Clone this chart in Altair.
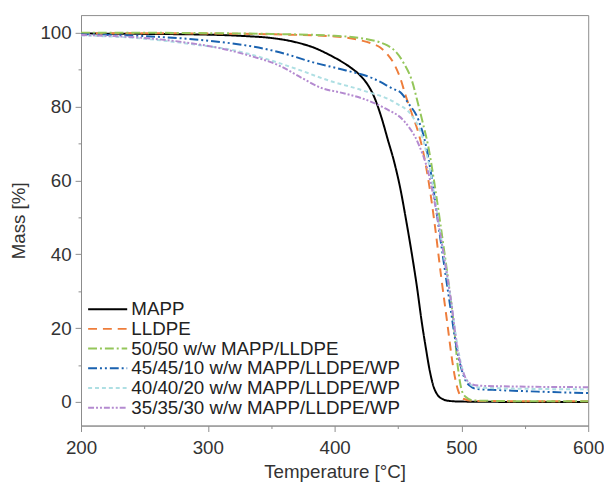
import altair as alt
import pandas as pd

series_names = [
    "MAPP",
    "LLDPE",
    "50/50 w/w MAPP/LLDPE",
    "45/45/10 w/w MAPP/LLDPE/WP",
    "40/40/20 w/w MAPP/LLDPE/WP",
    "35/35/30 w/w MAPP/LLDPE/WP",
]
series_colors = ["#000000", "#ee7d3b", "#94c65a", "#1a62b0", "#aedfe3", "#b48ad0"]
series_dashes = [[1, 0], [9, 6], [9, 3, 2, 3], [9, 3, 2, 3, 2, 3], [4, 3], [6, 2, 2, 2, 2, 2]]

mapp_t = [200, 250, 300, 330, 350, 370, 385, 396, 405, 413, 420, 426, 431, 437, 442, 447, 452, 456, 460, 465, 469, 472, 475, 478, 481, 485, 490, 500, 550, 600]
mapp_m = [99.8, 99.7, 99.5, 99.1, 98.6, 97.4, 95.8, 94.0, 92.3, 90.5, 88.5, 86.0, 82.8, 77.0, 71.0, 65.0, 57.5, 50.0, 42.0, 31.0, 21.0, 14.5, 8.5, 4.2, 2.0, 0.8, 0.3, 0.1, 0.0, 0.0]

lldpe_t = [200, 250, 300, 350, 400, 420, 430, 436, 442, 447, 452, 456, 461, 466, 470, 474, 479, 484, 489, 492, 495, 498, 502, 510, 550, 600]
lldpe_m = [99.9, 99.9, 99.8, 99.6, 99.0, 98.0, 97.0, 96.0, 94.0, 91.5, 87.5, 83.0, 78.0, 73.0, 67.5, 60.0, 48.0, 34.0, 21.0, 13.0, 6.5, 2.5, 0.8, 0.3, 0.2, 0.2]

b50_t = [200, 250, 300, 350, 400, 425, 435, 442, 448, 455, 461, 466, 470, 474, 477, 481, 486, 490, 494, 497, 500, 503, 510, 550, 600]
b50_m = [100.0, 100.0, 99.9, 99.7, 99.2, 98.3, 97.5, 96.5, 95.0, 91.5, 87.0, 80.5, 75.0, 69.0, 63.0, 54.0, 42.0, 32.0, 21.0, 10.0, 3.5, 1.5, 0.4, 0.2, 0.2]

b45_t = [200, 250, 290, 315, 340, 360, 383, 409, 430, 445, 453, 458, 466, 471, 476, 481, 486, 492, 496, 500, 503, 507, 512, 530, 560, 600]
b45_m = [99.6, 99.1, 98.2, 97.3, 96.0, 94.4, 92.0, 89.8, 87.7, 85.0, 83.5, 81.0, 76.5, 71.0, 62.0, 50.0, 38.0, 24.0, 15.0, 9.0, 6.0, 4.3, 3.5, 3.2, 2.8, 2.4]

b40_t = [200, 250, 290, 320, 331, 350, 370, 396, 422, 448, 461, 468, 474, 480, 486, 492, 497, 502, 507, 512, 530, 600]
b40_m = [99.3, 98.4, 96.8, 95.3, 94.4, 92.5, 90.2, 87.0, 84.4, 81.0, 77.5, 73.0, 65.0, 53.0, 40.0, 27.0, 15.0, 7.5, 4.8, 4.0, 3.7, 3.4]

b35_t = [200, 250, 280, 310, 331, 357, 375, 390, 405, 422, 440, 455, 466, 474, 480, 486, 492, 497, 502, 508, 515, 540, 600]
b35_m = [99.4, 98.6, 97.5, 95.8, 94.0, 91.0, 87.6, 85.0, 83.8, 82.2, 79.5, 76.0, 70.0, 62.0, 52.0, 40.0, 27.0, 14.0, 7.5, 4.8, 4.4, 4.2, 4.0]

x_major = [200, 300, 400, 500, 600]
x_minor = [250, 350, 450, 550]
y_major = [0, 20, 40, 60, 80, 100]
y_minor = [10, 30, 50, 70, 90]

all_t = [mapp_t, lldpe_t, b50_t, b45_t, b40_t, b35_t]
all_m = [mapp_m, lldpe_m, b50_m, b45_m, b40_m, b35_m]

rows = []
for name, ts, ms in zip(series_names, all_t, all_m):
    for i, (t, m) in enumerate(zip(ts, ms)):
        rows.append({"series": name, "T": t, "M": m, "order": i})
df = pd.DataFrame(rows)

FONT = "Liberation Sans"
AX_GRAY = "#8c8c8c"
TXT = "#333333"

xscale = alt.Scale(domain=[200, 600], nice=False, zero=False)
yscale = alt.Scale(domain=[-6.4, 104.8], nice=False, zero=False)

legend = alt.Legend(
    title=None,
    orient="none",
    legendX=17,
    legendY=288,
    symbolType="M-2.2,0H2.2",
    symbolSize=324,
    symbolStrokeWidth=2,
    labelOffset=14,
    labelFontSize=19,
    labelFont=FONT,
    labelColor="#222222",
    labelLimit=0,
    rowPadding=0,
    padding=0,
)

main = alt.Chart(df).mark_line(strokeWidth=2, interpolate="monotone", clip=True).encode(
    x=alt.X("T:Q", scale=xscale, axis=alt.Axis(
        values=x_major, title="Temperature [°C]", orient="bottom", grid=False,
        tickSize=6, labelPadding=7, titlePadding=6, labelFlush=False, labelOverlap=False)),
    y=alt.Y("M:Q", scale=yscale, axis=alt.Axis(
        values=y_major, title="Mass [%]", orient="left", grid=False,
        tickSize=6, labelPadding=4, titlePadding=12, labelFlush=False, labelOverlap=False)),
    color=alt.Color("series:N", scale=alt.Scale(domain=series_names, range=series_colors), legend=legend),
    strokeDash=alt.StrokeDash("series:N", scale=alt.Scale(domain=series_names, range=series_dashes), legend=legend),
    order="order:Q",
)

minor = alt.Chart(df).mark_point(opacity=0).encode(
    x=alt.X("T:Q", scale=xscale, axis=alt.Axis(
        values=x_minor, labels=False, domain=False, title=None, orient="bottom", grid=False, tickSize=3)),
    y=alt.Y("M:Q", scale=yscale, axis=alt.Axis(
        values=y_minor, labels=False, domain=False, title=None, orient="left", grid=False, tickSize=3)),
)

chart = alt.layer(main, minor).resolve_axis(x="independent", y="independent").properties(
    width=514,
    height=416,
    autosize=alt.AutoSizeParams(type="none"),
    padding={"left": 74, "top": 4, "right": 16, "bottom": 54},
).configure_view(
    stroke=AX_GRAY, strokeWidth=1
).configure_axis(
    domainColor=AX_GRAY,
    tickColor=AX_GRAY,
    labelColor=TXT,
    titleColor=TXT,
    labelFont=FONT,
    titleFont=FONT,
    labelFontSize=19,
    titleFontSize=19,
    titleFontWeight="normal",
)

chart.save("out.html", embed_options={"renderer": "svg", "actions": False})
